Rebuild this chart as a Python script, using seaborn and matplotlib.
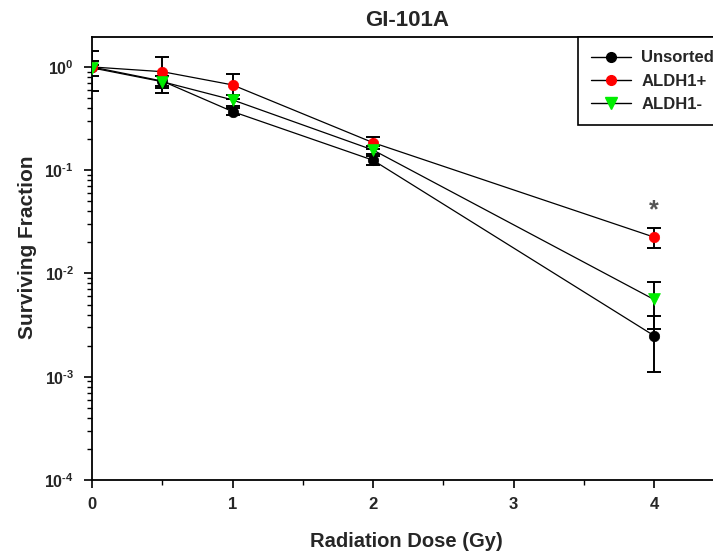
import numpy as np
import pandas as pd
import matplotlib
matplotlib.use("Agg")
import matplotlib.pyplot as plt
from matplotlib.lines import Line2D
from matplotlib.ticker import LogLocator, MultipleLocator, FixedLocator
import seaborn as sns

# Clonogenic survival of GI-101A subpopulations
dose = [0, 0.5, 1, 2, 4]
unsorted = [1.0, 0.73, 0.37, 0.125, 0.0025]
unsorted_err = [0.42, 0.08, 0.03, 0.012, 0.0014]
aldh_pos = [1.0, 0.90, 0.67, 0.185, 0.0225]
aldh_pos_err = [0.05, 0.34, 0.18, 0.025, 0.005]
aldh_neg = [0.98, 0.72, 0.48, 0.157, 0.0056]
aldh_neg_err = [0.16, 0.10, 0.06, 0.015, 0.0027]

series_names = ["Unsorted", "ALDH1+", "ALDH1-"]
y_tick_values = [1e-4, 1e-3, 1e-2, 1e-1, 1e0]
y_tick_labels = ["10$^{\u2010" + "4}$", "10$^{\u2010" + "3}$", "10$^{\u2010" + "2}$",
                 "10$^{\u2010" + "1}$", "10$^{0}$"]
x_tick_values = [0, 1, 2, 3, 4]

sns.set_style("ticks")
plt.rcParams["font.family"] = ["Liberation Sans", "DejaVu Sans"]
plt.rcParams["font.weight"] = "bold"
plt.rcParams["mathtext.fontset"] = "custom"
plt.rcParams["mathtext.rm"] = "Liberation Sans:bold"
plt.rcParams["mathtext.it"] = "Liberation Sans:bold"
plt.rcParams["mathtext.bf"] = "Liberation Sans:bold"

df = pd.DataFrame({
    "dose": dose * 3,
    "sf": unsorted + aldh_pos + aldh_neg,
    "err": unsorted_err + aldh_pos_err + aldh_neg_err,
    "group": sum([[n] * len(dose) for n in series_names], []),
})

styles = {
    "Unsorted": dict(color="#000000", marker="o", ms=7.5),
    "ALDH1+": dict(color="#ff0000", marker="o", ms=7.5),
    "ALDH1-": dict(color="#00ee00", marker="v", ms=8.5),
}

x_max = 4.48
px_per_gy = 140.5
fig = plt.figure(figsize=(7.13, 5.52), dpi=100)
ax = fig.add_axes([92 / 713, 72 / 552, x_max * px_per_gy / 713, (480 - 37) / 552])

# connecting lines (thin black)
sns.lineplot(data=df, x="dose", y="sf", units="group", estimator=None,
             color="black", lw=0.9, ax=ax, legend=False, zorder=2)

# error bars
for name in series_names:
    sub = df[df.group == name]
    ax.errorbar(sub.dose, sub.sf, yerr=sub.err, fmt="none", ecolor="black",
                elinewidth=1.4, capsize=4.8, capthick=1.4, zorder=3)

# markers
for name in series_names:
    sub = df[df.group == name]
    st = styles[name]
    sns.scatterplot(data=sub, x="dose", y="sf", color=st["color"], marker=st["marker"],
                    s=st["ms"] ** 2, edgecolor=st["color"], linewidth=0.5,
                    ax=ax, zorder=4, legend=False)

ax.set_yscale("log")
ax.set_ylim(1e-4, 1.95)
ax.set_xlim(0, x_max)

ax.yaxis.set_major_locator(FixedLocator(y_tick_values))
ax.set_yticklabels(y_tick_labels)
ax.yaxis.set_minor_locator(LogLocator(base=10, subs=np.arange(2, 10), numticks=20))
ax.xaxis.set_major_locator(FixedLocator(x_tick_values))
ax.set_xticklabels([str(v) for v in x_tick_values])
ax.xaxis.set_minor_locator(MultipleLocator(0.5))

ax.tick_params(axis="both", which="major", direction="out", length=6, width=1.2,
               color="black")
ax.tick_params(axis="x", which="major", pad=6, labelsize=12)
ax.tick_params(axis="y", which="major", pad=7, labelsize=11.5)
ax.tick_params(axis="both", which="minor", direction="out", length=3.5, width=1.0,
               color="black")
for lab in ax.get_xticklabels() + ax.get_yticklabels():
    lab.set_fontweight("bold")

for s in ["left", "bottom", "top"]:
    ax.spines[s].set_linewidth(1.3)
    ax.spines[s].set_color("black")
ax.spines["right"].set_visible(False)

ax.set_xlabel("Radiation Dose (Gy)", fontsize=14.5, fontweight="bold", labelpad=14.5)
ax.set_ylabel("Surviving Fraction", fontsize=15, fontweight="bold", labelpad=5)
ax.yaxis.label.set_y(0.525)
ax.set_title("GI-101A", fontsize=16, fontweight="bold", pad=8)

# significance mark
ax.text(4, 0.0405, "*", ha="center", va="center", fontsize=18, color="#555555")

handles = [Line2D([0], [0], color="black", lw=1.0, marker=styles[n]["marker"],
                  markersize=styles[n]["ms"] - 0.5, markerfacecolor=styles[n]["color"],
                  markeredgecolor=styles[n]["color"]) for n in series_names]
leg = ax.legend(handles, series_names, loc="upper left",
                bbox_to_anchor=((578 - 92) / (x_max * px_per_gy), 1.0), borderaxespad=0,
                frameon=True, fancybox=False, edgecolor="black", framealpha=1,
                prop={"weight": "bold", "size": 12}, handlelength=2.4,
                borderpad=0.8, labelspacing=0.5, handletextpad=0.6)
leg.get_frame().set_linewidth(1.2)

fig.savefig("out.png", dpi=100)
